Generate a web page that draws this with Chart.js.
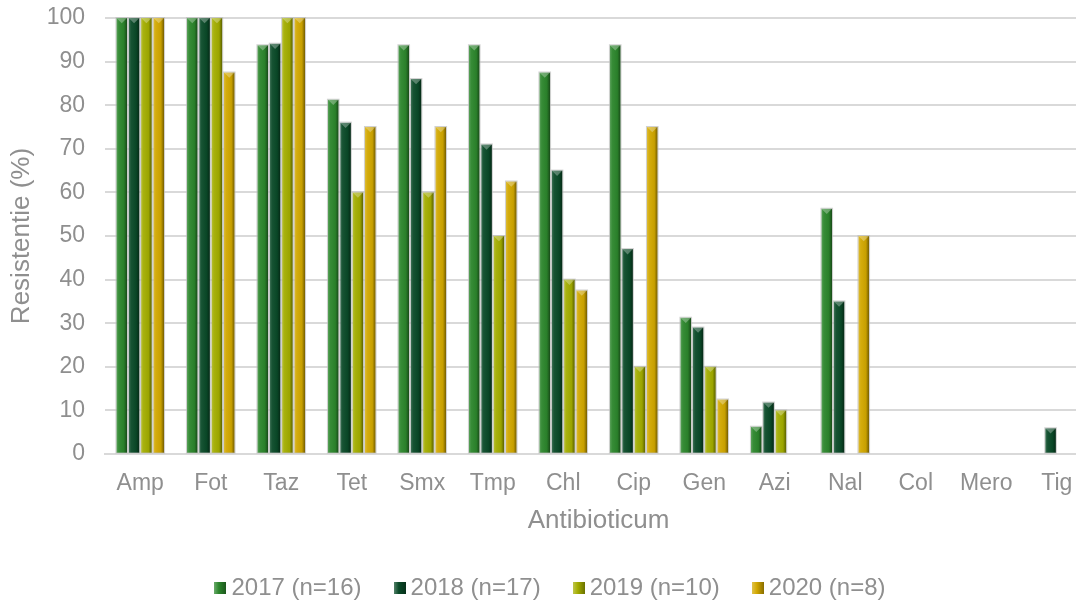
<!DOCTYPE html>
<html>
<head>
<meta charset="utf-8">
<script src="https://cdn.jsdelivr.net/npm/chart.js@4"></script>
<style>
  html, body { margin: 0; padding: 0; background: #fff; overflow: hidden; }
  #wrap { position: relative; width: 1100px; height: 600px; }
  #legend {
    position: absolute; left: 0; top: 573px; width: 1100px;
    display: flex; justify-content: center; gap: 32px;
    font-family: 'Liberation Sans', Arial, sans-serif; font-size: 24px; color: #8f8f8f;
    line-height: 28px;
  }
  #legend .item { display: flex; align-items: center; }
  #legend .box { width: 12px; height: 12px; margin-right: 5px; margin-top: 1px; }
</style>
</head>
<body>
<div id="wrap"><canvas id="c"></canvas><div id="legend"></div></div>
<script>
const categories = ['Amp', 'Fot', 'Taz', 'Tet', 'Smx', 'Tmp', 'Chl', 'Cip', 'Gen', 'Azi', 'Nal', 'Col', 'Mero', 'Tig']

const labels2017 = '2017 (n=16)'
const labels2018 = '2018 (n=17)'
const labels2019 = '2019 (n=10)'
const labels2020 = '2020 (n=8)'

const values2017 = [100, 100, 93.75, 81.25, 93.75, 93.75, 87.5, 93.75, 31.25, 6.25, 56.25, 0, 0, 0]
const values2018 = [100, 100, 94.1, 76, 86, 71, 65, 47, 29, 11.8, 35, 0, 0, 5.9]
const values2019 = [100, 100, 100, 60, 60, 50, 40, 20, 20, 10, 0, 0, 0, 0]
const values2020 = [100, 87.5, 100, 75, 75, 62.5, 37.5, 75, 12.5, 0, 50, 0, 0, 0]

const grey = '#8f8f8f'
const font = 'Liberation Sans'

// bevel look: light left edge, dark right edge, pointed cap on top
const bevel = {
  id: 'bevel',
  afterDatasetsDraw(chart) {
    const ctx = chart.ctx
    chart.data.datasets.forEach((ds, i) => {
      const meta = chart.getDatasetMeta(i)
      meta.data.forEach((bar) => {
        const { x, y, base, width } = bar.getProps(['x', 'y', 'base', 'width'], true)
        const h = base - y
        if (h < 0.5) return
        const l = x - width / 2
        const r = x + width / 2
        ctx.save()
        const g = ctx.createLinearGradient(l, 0, r, 0)
        g.addColorStop(0, 'rgba(255,255,255,0.22)')
        g.addColorStop(0.22, 'rgba(255,255,255,0.05)')
        g.addColorStop(0.7, 'rgba(0,0,0,0.05)')
        g.addColorStop(1, 'rgba(0,0,0,0.45)')
        ctx.fillStyle = g
        ctx.fillRect(l, y, width, h)
        const cap = Math.min(width / 2, h)
        ctx.beginPath()
        ctx.moveTo(l, y)
        ctx.lineTo(r, y)
        ctx.lineTo(x, y + cap)
        ctx.closePath()
        ctx.fillStyle = 'rgba(255,255,255,0.3)'
        ctx.fill()
        ctx.strokeStyle = 'rgba(190,190,190,0.7)'
        ctx.lineWidth = 1
        ctx.strokeRect(l - 0.5, y - 0.5, width + 1, h + 0.5)
        ctx.restore()
      })
    })
  },
}

// html legend, so the item spacing can be wide without a tall legend box
const htmlLegend = {
  id: 'htmlLegend',
  afterUpdate(chart) {
    const el = document.getElementById('legend')
    el.innerHTML = ''
    chart.data.datasets.forEach((ds) => {
      const item = document.createElement('div')
      item.className = 'item'
      const box = document.createElement('span')
      box.className = 'box'
      box.style.background =
        'linear-gradient(90deg, rgba(255,255,255,0.3), rgba(0,0,0,0) 40%, rgba(0,0,0,0.35)), ' + ds.backgroundColor
      const txt = document.createElement('span')
      txt.textContent = ds.label
      item.appendChild(box)
      item.appendChild(txt)
      el.appendChild(item)
    })
  },
}

function series(label, data, color) {
  return {
    label,
    data,
    backgroundColor: color,
    borderWidth: 0,
    categoryPercentage: 0.7,
    barPercentage: 0.86,
  }
}

new Chart(document.getElementById('c'), {
  type: 'bar',
  data: {
    labels: categories,
    datasets: [
      series(labels2017, values2017, '#2c862c'),
      series(labels2018, values2018, '#0a4a28'),
      series(labels2019, values2019, '#a3ad00'),
      series(labels2020, values2020, '#d2a800'),
    ],
  },
  options: {
    responsive: true,
    maintainAspectRatio: false,
    animation: false,
    layout: { padding: { top: 18, right: 8, left: 0, bottom: 60 } },
    scales: {
      x: {
        grid: { display: false },
        border: { display: true, color: '#d9d9d9', width: 2 },
        ticks: { color: grey, font: { family: font, size: 23 }, padding: 8 },
        title: {
          display: true,
          text: 'Antibioticum',
          color: grey,
          font: { family: font, size: 26 },
          padding: { top: 0, bottom: 4 },
        },
        afterFit(scale) { scale.height = 86 },
      },
      y: {
        min: 0,
        max: 100,
        ticks: {
          stepSize: 10,
          color: grey,
          font: { family: font, size: 23 },
          padding: 20,
        },
        grid: { color: '#d9d9d9', lineWidth: 2, tickLength: 0 },
        border: { display: false },
        title: {
          display: true,
          text: 'Resistentie (%)',
          color: grey,
          font: { family: font, size: 26 },
          padding: { top: 6, bottom: 0 },
        },
        afterFit(scale) {
          scale.width = 105
          scale.paddingTop = 0
          scale.paddingBottom = 0
        },
      },
    },
    plugins: {
      legend: { display: false },
      tooltip: { enabled: false },
    },
  },
  plugins: [bevel, htmlLegend],
})
</script>
</body>
</html>
